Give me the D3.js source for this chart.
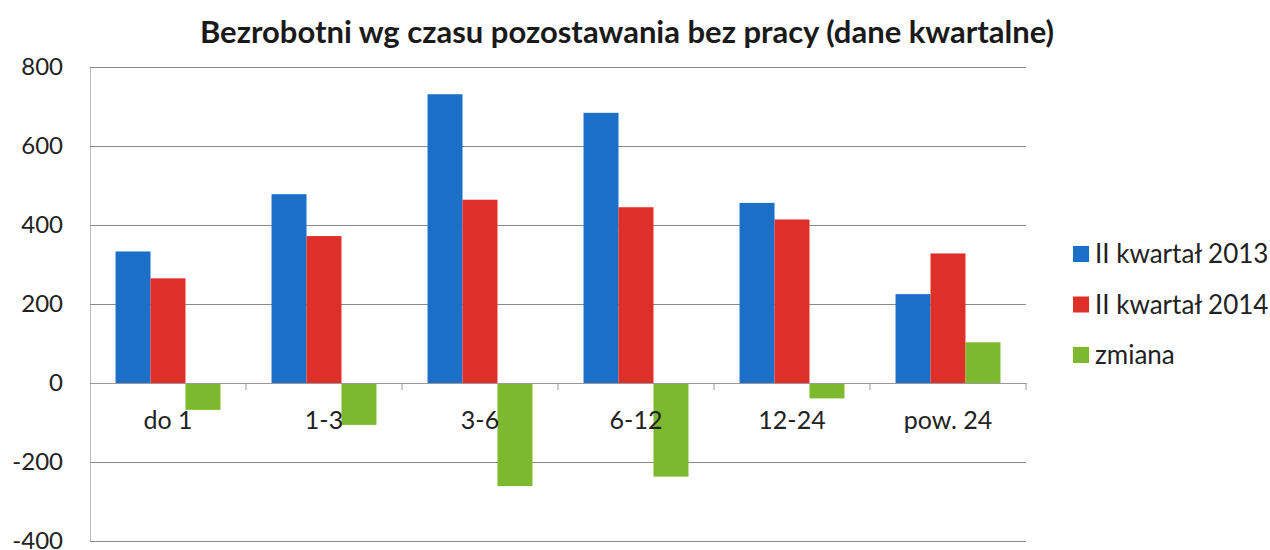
<!DOCTYPE html>
<html>
<head>
<meta charset="utf-8">
<script src="https://cdn.jsdelivr.net/npm/d3@7"></script>
<style>
  body { margin: 0; background: #fff; }
  svg { font-family: Lato, "Open Sans", sans-serif; }
</style>
</head>
<body>
<div id="container"></div>
<script>
const categories = ["do 1", "1-3", "3-6", "6-12", "12-24", "pow. 24"];
const seriesNames = ["II kwartał 2013", "II kwartał 2014", "zmiana"];
const q2013 = [333, 478, 731, 684, 456, 225];
const q2014 = [265, 372, 464, 445, 414, 328];
const change = [-68, -106, -261, -237, -39, 103];
const yTicks = [-400, -200, 0, 200, 400, 600, 800];
const colors = ["#1b6fc6", "#de3029", "#7cb92f"];

const w = 1270, h = 550;
const plotLeft = 90, plotRight = 1026, plotTop = 67, plotBottom = 541;

const rows = categories.map((c, i) => ({ cat: c, vals: [q2013[i], q2014[i], change[i]] }));

const svg = d3.select("#container").append("svg")
  .attr("width", w).attr("height", h);

const x0 = d3.scaleBand().domain(categories).range([plotLeft, plotRight]).padding(0);
const x1 = d3.scaleBand().domain(seriesNames)
  .range([0, x0.bandwidth()]).paddingInner(0).paddingOuter(0.73);
const y = d3.scaleLinear().domain([-400, 800]).range([plotBottom, plotTop]);

// title
svg.append("text")
  .attr("x", 627).attr("y", 43)
  .attr("text-anchor", "middle")
  .style("font-size", "31px").style("font-weight", "bold").attr("fill", "#1a1a1a")
  .text("Bezrobotni wg czasu pozostawania bez pracy (dane kwartalne)");

// gridlines + y labels
const yAxis = svg.append("g")
  .attr("transform", `translate(${plotLeft},0)`)
  .call(d3.axisLeft(y).tickValues(yTicks).tickFormat((d) => String(d))
    .tickSize(-(plotRight - plotLeft)).tickPadding(27));
yAxis.select(".domain").attr("stroke", "#bbb");
yAxis.selectAll(".tick line").attr("stroke", "#8a8a8a").attr("stroke-width", 1.2);
yAxis.selectAll(".tick text")
  .style("font-size", "24px").style("font-family", "Lato, sans-serif").attr("fill", "#222");

// bars
const groups = svg.selectAll("g.grp").data(rows).enter().append("g")
  .attr("class", "grp")
  .attr("transform", (d) => `translate(${x0(d.cat)},0)`);

groups.selectAll("rect")
  .data((d) => d.vals.map((v, i) => ({ name: seriesNames[i], v, i })))
  .enter().append("rect")
  .attr("x", (d) => x1(d.name))
  .attr("width", x1.bandwidth())
  .attr("y", (d) => y(Math.max(0, d.v)))
  .attr("height", (d) => Math.abs(y(d.v) - y(0)))
  .attr("fill", (d) => colors[d.i]);

// category axis at zero
const xAxis = svg.append("g")
  .attr("transform", `translate(0,${y(0)})`)
  .call(d3.axisBottom(x0).tickSize(0).tickPadding(28));
xAxis.select(".domain").attr("stroke", "#999");
xAxis.selectAll(".tick text")
  .style("font-size", "25px").style("font-family", "Lato, sans-serif").attr("fill", "#222");

// small tick marks at band edges
svg.append("g").selectAll("line")
  .data(categories.slice(1).concat(["end"]))
  .enter().append("line")
  .attr("x1", (d) => d === "end" ? plotRight : x0(d))
  .attr("x2", (d) => d === "end" ? plotRight : x0(d))
  .attr("y1", y(0)).attr("y2", y(0) + 7)
  .attr("stroke", "#999");

// legend
const legend = svg.append("g").attr("transform", "translate(1073,254)");
seriesNames.forEach((name, i) => {
  const g = legend.append("g").attr("transform", `translate(0,${i * 50.5})`);
  g.append("rect").attr("x", 0).attr("y", -8).attr("width", 16).attr("height", 16).attr("fill", colors[i]);
  g.append("text").attr("x", 22).attr("y", 0).attr("dy", "0.35em")
    .style("font-size", "26px").attr("fill", "#222").text(name);
});
</script>
</body>
</html>
